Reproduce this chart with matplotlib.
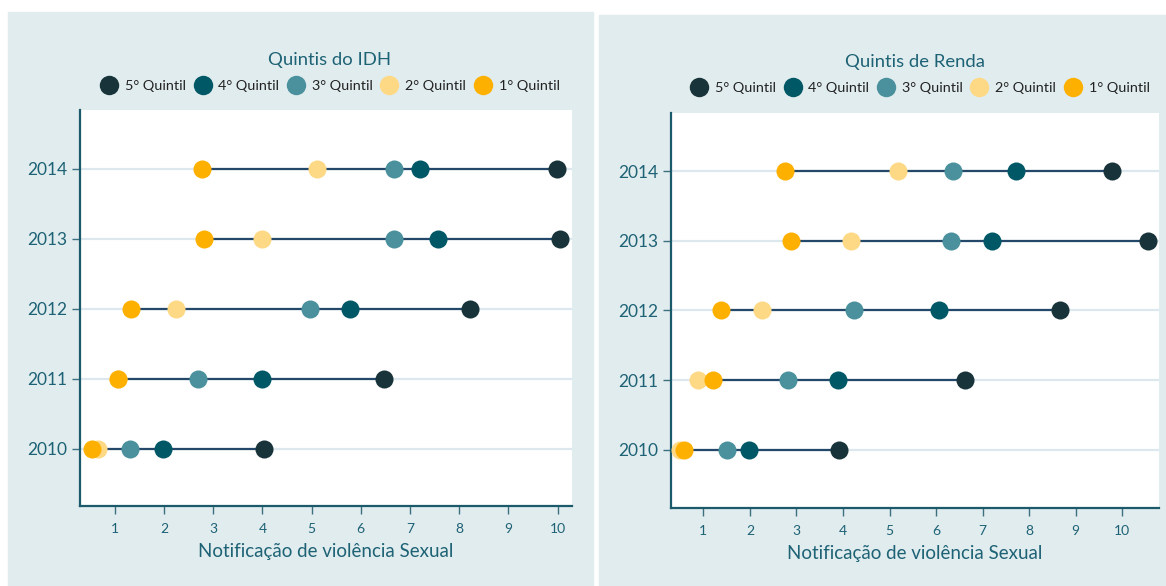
import matplotlib.pyplot as plt
from matplotlib.patches import Rectangle
from matplotlib.lines import Line2D

plt.rcParams['font.family'] = ['Lato', 'DejaVu Sans']

years = [2010, 2011, 2012, 2013, 2014]
quintis = ["5° Quintil", "4° Quintil", "3° Quintil", "2° Quintil", "1° Quintil"]
cores = ["#18343a", "#005866", "#4a919d", "#fed985", "#fdb000"]

# Quintis do IDH (one list per quintil, values per year 2010..2014)
idh_q5 = [4.04, 6.47, 8.22, 10.05, 9.99]
idh_q4 = [1.98, 4.00, 5.79, 7.56, 7.20]
idh_q3 = [1.31, 2.69, 4.97, 6.67, 6.68]
idh_q2 = [0.66, 1.06, 2.25, 3.99, 5.11]
idh_q1 = [0.53, 1.06, 1.33, 2.82, 2.78]

# Quintis de Renda
renda_q5 = [3.92, 6.62, 8.67, 10.56, 9.78]
renda_q4 = [1.97, 3.89, 6.07, 7.20, 7.71]
renda_q3 = [1.51, 2.82, 4.23, 6.33, 6.36]
renda_q2 = [0.50, 0.88, 2.26, 4.17, 5.19]
renda_q1 = [0.58, 1.21, 1.37, 2.88, 2.76]

W, H = 1166, 586
fig = plt.figure(figsize=(W / 100, H / 100), dpi=100)
fig.patch.set_facecolor("white")

bg = "#e1ecee"
teal = "#1d6275"
# panel backgrounds (pixel coords -> figure fraction)
fig.patches.append(Rectangle((8 / W, 0), (592.7 - 8) / W, (586 - 12.3) / H,
                             transform=fig.transFigure, color=bg, zorder=-5))
fig.patches.append(Rectangle((599.3 / W, 0), (W - 599.3) / W, (586 - 15) / H,
                             transform=fig.transFigure, color=bg, zorder=-5))


def painel(rect, series, xlim, ylim, titulo, title_xy, leg_xy):
    ax = fig.add_axes([rect[0] / W, (H - rect[3]) / H,
                       (rect[2] - rect[0]) / W, (rect[3] - rect[1]) / H])
    ax.set_facecolor("white")
    for y in years:
        ax.axhline(y, color="#dce8ee", lw=1.6, zorder=1)
    q5, q1 = series[0], series[4]
    for i, y in enumerate(years):
        ax.plot([q1[i], q5[i]], [y, y], color="#24486a", lw=1.6, zorder=2)
    for vals, c in zip(series, cores):
        ax.plot(vals, years, "o", color=c, ms=13, mew=0, zorder=3)
    ax.set_xlim(*xlim)
    ax.set_ylim(*ylim)
    ax.set_xticks(range(1, 11))
    ax.set_yticks(years)
    for s in ["top", "right"]:
        ax.spines[s].set_visible(False)
    for s in ["left", "bottom"]:
        ax.spines[s].set_color("#1b5a6a")
        ax.spines[s].set_linewidth(1.6)
    ax.tick_params(axis="x", colors="#3c7080", labelcolor=teal, labelsize=10,
                   length=6, width=1, pad=6)
    ax.tick_params(axis="y", colors="#3c7080", labelcolor=teal, labelsize=12.5,
                   length=6, width=1, pad=3)
    ax.set_xlabel("Notificação de violência Sexual", color=teal, fontsize=13.5,
                  labelpad=6)
    fig.text(title_xy[0] / W, 1 - title_xy[1] / H, titulo, color=teal,
             fontsize=13.3, ha="center", va="center")
    handles = [Line2D([0], [0], marker="o", ls="", color=c, ms=14, mew=0)
               for c in cores]
    fig.legend(handles, quintis, loc="center", ncol=5, frameon=False,
               bbox_to_anchor=(leg_xy[0] / W, 1 - leg_xy[1] / H),
               fontsize=10.4, handletextpad=0.5, columnspacing=0.55,
               handlelength=1.2, labelcolor="#222222")
    return ax


painel((79.8, 110, 571.9, 506), [idh_q5, idh_q4, idh_q3, idh_q2, idh_q1],
       (0.29, 10.29), (2009.18, 2014.84), "Quintis do IDH", (330, 60), (330, 86))
painel((670.8, 113.3, 1159.4, 508.3), [renda_q5, renda_q4, renda_q3, renda_q2, renda_q1],
       (0.30, 10.80), (2009.16, 2014.83), "Quintis de Renda", (915, 62), (920, 88))

fig.savefig("out.png", dpi=100)
